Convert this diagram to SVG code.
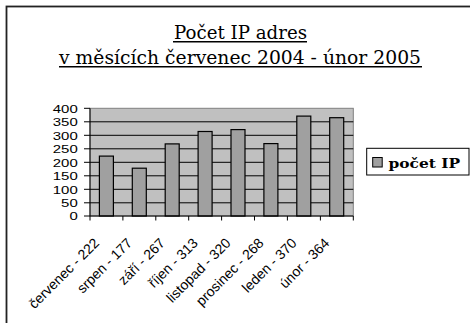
<svg xmlns="http://www.w3.org/2000/svg" width="470" height="323" viewBox="0 0 470 323">
<style>
.ttl{font-family:"DejaVu Serif",serif;font-size:19px;fill:#000}
.ax{font-family:"Liberation Sans",Arial,sans-serif;font-size:11.5px;fill:#000}
.cat{font-family:"Liberation Sans",Arial,sans-serif;font-size:14px;fill:#000}
.grid{stroke:#000;stroke-width:1}
.bar{fill:#a0a0a0;stroke:#000;stroke-width:1.2}
.leg{font-family:"DejaVu Serif",serif;font-size:13.5px;font-weight:bold;fill:#000}
</style>
<rect x="0" y="0" width="470" height="323" fill="#fff"/>
<rect id="frame" x="6.5" y="6.5" width="480" height="330" fill="#fff" stroke="#222" stroke-width="1.8"/>
<g id="title">
<text class="ttl" x="174" y="39" textLength="133" lengthAdjust="spacingAndGlyphs">Počet IP adres</text>
<line x1="173" y1="41.8" x2="307" y2="41.8" stroke="#000" stroke-width="1.6"/>
<text class="ttl" x="59" y="63.5" textLength="362" lengthAdjust="spacingAndGlyphs">v měsících červenec 2004 - únor 2005</text>
<line x1="59" y1="66.8" x2="422" y2="66.8" stroke="#000" stroke-width="1.6"/>
</g>
<g id="plot">
<rect x="90" y="108.3" width="263.3" height="107.7" fill="#c0c0c0" stroke="#808080" stroke-width="1"/>
<g class="grid">
<line x1="90" y1="121.8" x2="353.3" y2="121.8"/>
<line x1="90" y1="135.3" x2="353.3" y2="135.3"/>
<line x1="90" y1="148.8" x2="353.3" y2="148.8"/>
<line x1="90" y1="162.3" x2="353.3" y2="162.3"/>
<line x1="90" y1="175.8" x2="353.3" y2="175.8"/>
<line x1="90" y1="189.3" x2="353.3" y2="189.3"/>
<line x1="90" y1="202.8" x2="353.3" y2="202.8"/>
</g>
</g>
<g id="bars">
<rect class="bar" x="99.4" y="156.1" width="14" height="59.9"/>
<rect class="bar" x="132.3" y="168.2" width="14" height="47.8"/>
<rect class="bar" x="165.2" y="143.9" width="14" height="72.1"/>
<rect class="bar" x="198.1" y="131.5" width="14" height="84.5"/>
<rect class="bar" x="231" y="129.6" width="14" height="86.4"/>
<rect class="bar" x="263.9" y="143.6" width="14" height="72.4"/>
<rect class="bar" x="296.8" y="116.1" width="14" height="99.9"/>
<rect class="bar" x="329.7" y="117.7" width="14" height="98.3"/>
</g>
<g id="axes" stroke="#000" stroke-width="1">
<line x1="90" y1="108.3" x2="90" y2="216"/>
<line x1="84" y1="108.3" x2="90" y2="108.3"/>
<line x1="84" y1="121.8" x2="90" y2="121.8"/>
<line x1="84" y1="135.3" x2="90" y2="135.3"/>
<line x1="84" y1="148.8" x2="90" y2="148.8"/>
<line x1="84" y1="162.3" x2="90" y2="162.3"/>
<line x1="84" y1="175.8" x2="90" y2="175.8"/>
<line x1="84" y1="189.3" x2="90" y2="189.3"/>
<line x1="84" y1="202.8" x2="90" y2="202.8"/>
<line x1="84" y1="216" x2="353.3" y2="216"/>
<line x1="90" y1="216" x2="90" y2="220.5"/>
<line x1="122.9" y1="216" x2="122.9" y2="220.5"/>
<line x1="155.8" y1="216" x2="155.8" y2="220.5"/>
<line x1="188.7" y1="216" x2="188.7" y2="220.5"/>
<line x1="221.6" y1="216" x2="221.6" y2="220.5"/>
<line x1="254.5" y1="216" x2="254.5" y2="220.5"/>
<line x1="287.4" y1="216" x2="287.4" y2="220.5"/>
<line x1="320.4" y1="216" x2="320.4" y2="220.5"/>
<line x1="353.3" y1="216" x2="353.3" y2="220.5"/>
</g>
<g id="ylabels" class="ax" text-anchor="end">
<text transform="translate(77.7,112.5) scale(1.3,1)">400</text>
<text transform="translate(77.7,126) scale(1.3,1)">350</text>
<text transform="translate(77.7,139.5) scale(1.3,1)">300</text>
<text transform="translate(77.7,153) scale(1.3,1)">250</text>
<text transform="translate(77.7,166.5) scale(1.3,1)">200</text>
<text transform="translate(77.7,180) scale(1.3,1)">150</text>
<text transform="translate(77.7,193.5) scale(1.3,1)">100</text>
<text transform="translate(77.7,207) scale(1.3,1)">50</text>
<text transform="translate(77.7,220) scale(1.3,1)">0</text>
</g>
<g id="xlabels" class="cat" text-anchor="end">
<text transform="translate(100,244) rotate(-45)">červenec - 222</text>
<text transform="translate(132.9,244) rotate(-45)">srpen - 177</text>
<text transform="translate(165.8,244) rotate(-45)">září - 267</text>
<text transform="translate(198.7,244) rotate(-45)">říjen - 313</text>
<text transform="translate(231.6,244) rotate(-45)">listopad - 320</text>
<text transform="translate(264.5,244) rotate(-45)">prosinec - 268</text>
<text transform="translate(297.4,244) rotate(-45)">leden - 370</text>
<text transform="translate(330.3,244) rotate(-45)">únor - 364</text>
</g>
<g id="legend">
<rect x="366.7" y="148.3" width="102.3" height="26.7" fill="#fff" stroke="#000" stroke-width="1"/>
<rect x="372.7" y="157.5" width="9.5" height="9.5" fill="#a0a0a0" stroke="#000" stroke-width="1"/>
<text class="leg" x="388.5" y="168.3" textLength="71.5" lengthAdjust="spacingAndGlyphs">počet IP</text>
</g>
</svg>
